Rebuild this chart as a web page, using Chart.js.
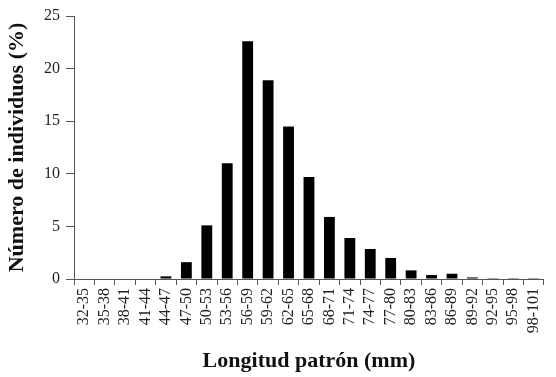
<!DOCTYPE html>
<html lang="es">
<head>
    <meta charset="UTF-8">
    <title>Longitud patrón</title>
    <style>
        body {
            margin: 0;
            background-color: #fff;
        }
        #wrap {
            width: 556px;
            height: 377px;
        }
    </style>
    <script src="https://cdn.jsdelivr.net/npm/chart.js"></script>
</head>
<body>
    <div id="wrap"><canvas id="lengthChart" width="556" height="377"></canvas></div>

    <script>
        // clases de longitud patrón (mm)
        const clases = ['32-35', '35-38', '38-41', '41-44', '44-47', '47-50', '50-53', '53-56',
            '56-59', '59-62', '62-65', '65-68', '68-71', '71-74', '74-77', '77-80',
            '80-83', '83-86', '86-89', '89-92', '92-95', '95-98', '98-101'];
        // porcentaje de individuos por clase
        const porcentajes = [0, 0, 0, 0, 0.25, 1.6, 5.1, 11.0,
            22.6, 18.9, 14.5, 9.7, 5.9, 3.9, 2.85, 2.0,
            0.82, 0.38, 0.5, 0.15, 0.08, 0.08, 0.08];
        const ticksY = [0, 5, 10, 15, 20, 25];

        const fuente = "'Liberation Serif', 'Times New Roman', serif";

        const ctx = document.getElementById('lengthChart').getContext('2d');
        new Chart(ctx, {
            type: 'bar',
            data: {
                labels: clases,
                datasets: [{
                    data: porcentajes,
                    backgroundColor: '#000',
                    borderWidth: 0,
                    categoryPercentage: 1,
                    barPercentage: 0.53
                }]
            },
            options: {
                responsive: false,
                animation: false,
                layout: {
                    padding: { top: 16, right: 4, left: 0, bottom: 0 }
                },
                plugins: {
                    legend: { display: false },
                    tooltip: { enabled: false }
                },
                scales: {
                    x: {
                        afterFit: (scale) => { scale.height = 98; },
                        grid: {
                            drawOnChartArea: false,
                            drawTicks: true,
                            tickLength: 6,
                            color: '#555',
                            offset: true
                        },
                        border: { color: '#555', width: 1 },
                        ticks: {
                            minRotation: 90,
                            maxRotation: 90,
                            autoSkip: false,
                            padding: 3,
                            color: '#222',
                            font: { family: fuente, size: 16 }
                        },
                        title: {
                            display: true,
                            text: 'Longitud patrón (mm)',
                            color: '#111',
                            font: { family: fuente, size: 22, weight: 'bold' },
                            padding: { top: 0, bottom: 2 }
                        }
                    },
                    y: {
                        min: 0,
                        max: 25,
                        afterFit: (scale) => { scale.width = 74; },
                        afterBuildTicks: (scale) => {
                            scale.ticks = ticksY.map(v => ({ value: v }));
                        },
                        grid: {
                            drawOnChartArea: false,
                            drawTicks: true,
                            tickLength: 8,
                            color: '#555'
                        },
                        border: { color: '#555', width: 1 },
                        ticks: {
                            padding: 6,
                            color: '#222',
                            font: { family: fuente, size: 16 }
                        },
                        title: {
                            display: true,
                            text: 'Número de individuos (%)',
                            color: '#111',
                            font: { family: fuente, size: 22, weight: 'bold' },
                            padding: { top: 4, bottom: 0 }
                        }
                    }
                }
            }
        });
    </script>
</body>
</html>
